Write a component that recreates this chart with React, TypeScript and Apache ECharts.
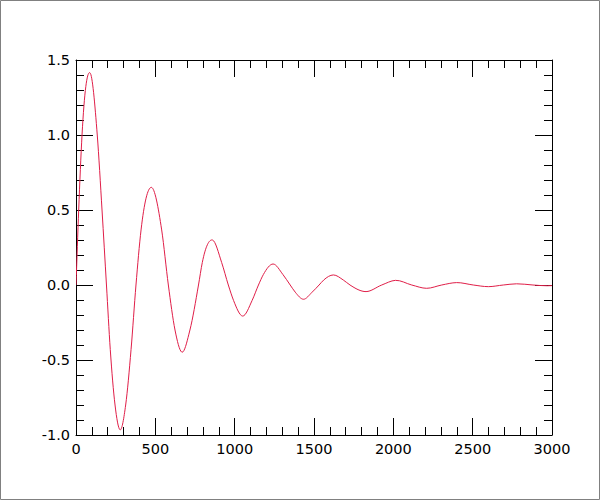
import React, { useEffect, useRef } from "react";
import * as echarts from "echarts";

// Damped oscillation, points
const xValues = [
  0, 17, 38, 88, 134, 164, 192, 216, 246, 277, 313, 347, 378,
  410, 473, 540, 582, 624, 666, 718, 772, 796, 860, 918, 960,
  993, 1050, 1110, 1150, 1181, 1242, 1304, 1350, 1382, 1433, 1488, 1532,
  1561, 1622, 1685, 1727, 1828, 1927, 2013, 2116,
  2210, 2305, 2399, 2504, 2599, 2693, 2777, 2880, 2970, 3000,
];
const yValues = [
  0, 0.5, 1.0, 1.415, 1.0, 0.5, 0.0, -0.43, -0.8, -0.965, -0.8, -0.43, 0.0,
  0.367, 0.651, 0.367, 0.0, -0.3, -0.447, -0.3, 0.0, 0.15, 0.3, 0.15, 0.0,
  -0.103, -0.207, -0.103, 0.0, 0.07, 0.14, 0.07, 0.0, -0.048, -0.095, -0.048, 0.0,
  0.033, 0.067, 0.033, 0.0, -0.044, 0.0, 0.031, 0.0,
  -0.022, 0.0, 0.016, 0.0, -0.011, 0.0, 0.008, 0.0, -0.005, -0.004,
];
const xTicks = ["0", "500", "1000", "1500", "2000", "2500", "3000"];
const yTicks = ["-1.0", "-0.5", "0.0", "0.5", "1.0", "1.5"];

const LINE_COLOR = "#e01e48";

// tangent at each read point (three-point derivative) used to draw a smooth curve through them
function tangents(xs: number[], ys: number[]): number[] {
  const n = xs.length;
  const m: number[] = new Array(n).fill(0);
  for (let i = 0; i < n; i++) {
    if (i === 0) {
      m[i] = (ys[1] - ys[0]) / (xs[1] - xs[0]);
    } else if (i === n - 1) {
      m[i] = (ys[i] - ys[i - 1]) / (xs[i] - xs[i - 1]);
    } else {
      const h0 = xs[i] - xs[i - 1];
      const h1 = xs[i + 1] - xs[i];
      const s0 = (ys[i] - ys[i - 1]) / h0;
      const s1 = (ys[i + 1] - ys[i]) / h1;
      m[i] = (s0 * h1 + s1 * h0) / (h0 + h1);
    }
  }
  return m;
}

export default function App() {
  const ref = useRef<HTMLDivElement>(null);
  useEffect(() => {
    if (!ref.current) return;
    const chart = echarts.init(ref.current, null, { renderer: "svg" });
    const font = "DejaVu Sans";
    const tickCommon = {
      axisTick: { show: true, inside: true, length: 17, lineStyle: { color: "#000", width: 1 } },
      minorTick: { show: true, splitNumber: 5, length: 8, lineStyle: { color: "#000", width: 1 } },
      axisLine: { show: true, onZero: false, lineStyle: { color: "#000", width: 1 } },
      splitLine: { show: false },
      minorSplitLine: { show: false },
    };
    const data = xValues.map((x, i) => [x, yValues[i]]);
    const m = tangents(xValues, yValues);
    const n = xValues.length;
    chart.setOption({
      animation: false,
      backgroundColor: "#fff",
      graphic: [
        {
          type: "rect",
          shape: { x: 0.5, y: 0.5, width: 599, height: 499 },
          style: { fill: "none", stroke: "#808080", lineWidth: 1 },
          silent: true,
        },
      ],
      grid: { left: 76, top: 60, width: 476, height: 375, containLabel: false },
      xAxis: [
        {
          type: "value",
          min: 0,
          max: 3000,
          interval: 500,
          position: "bottom",
          ...tickCommon,
          axisLabel: {
            color: "#000",
            fontFamily: font,
            fontSize: 14.5,
            margin: 6,
            formatter: (v: number) => xTicks[Math.round(v / 500)] ?? "",
          },
        },
        {
          type: "value",
          min: 0,
          max: 3000,
          interval: 500,
          position: "top",
          ...tickCommon,
          axisLabel: { show: false },
        },
      ],
      yAxis: [
        {
          type: "value",
          min: -1,
          max: 1.5,
          interval: 0.5,
          position: "left",
          ...tickCommon,
          axisLabel: {
            color: "#000",
            fontFamily: font,
            fontSize: 14.5,
            margin: 6,
            formatter: (v: number) => yTicks[Math.round((v + 1) / 0.5)] ?? "",
          },
        },
        {
          type: "value",
          min: -1,
          max: 1.5,
          interval: 0.5,
          position: "right",
          ...tickCommon,
          axisLabel: { show: false },
        },
      ],
      series: [
        {
          type: "custom",
          data,
          encode: { x: 0, y: 1 },
          xAxisIndex: 0,
          yAxisIndex: 0,
          clip: true,
          silent: true,
          renderItem: (params: any, api: any) => {
            const i = params.dataIndex;
            if (i >= n - 1) return null;
            const x0 = api.value(0);
            const y0 = api.value(1);
            const x1 = xValues[i + 1];
            const y1 = yValues[i + 1];
            const h = x1 - x0;
            const p0 = api.coord([x0, y0]);
            const p3 = api.coord([x1, y1]);
            const c1 = api.coord([x0 + h / 3, y0 + (m[i] * h) / 3]);
            const c2 = api.coord([x1 - h / 3, y1 - (m[i + 1] * h) / 3]);
            return {
              type: "bezierCurve",
              shape: {
                x1: p0[0],
                y1: p0[1],
                x2: p3[0],
                y2: p3[1],
                cpx1: c1[0],
                cpy1: c1[1],
                cpx2: c2[0],
                cpy2: c2[1],
              },
              style: { fill: "none", stroke: LINE_COLOR, lineWidth: 1 },
            };
          },
        },
      ],
    });
    return () => chart.dispose();
  }, []);
  return (
    <div
      ref={ref}
      style={{ position: "absolute", left: 0, top: 0, width: 600, height: 500 }}
    />
  );
}
